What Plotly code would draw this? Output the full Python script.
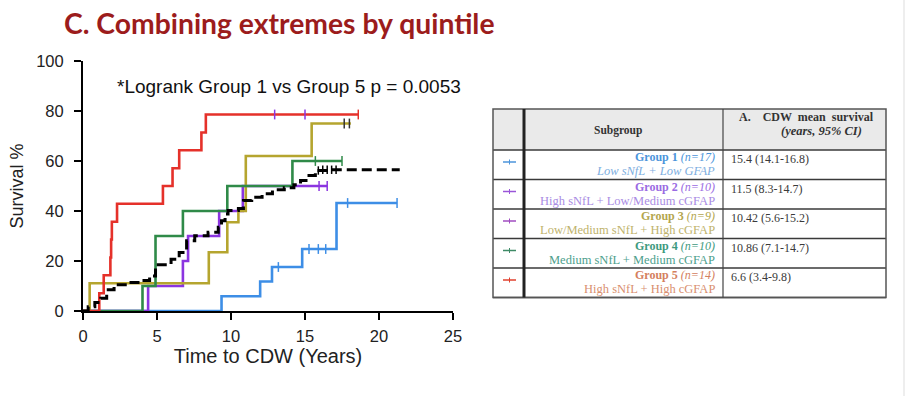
import plotly.graph_objects as go

# ---------------- data ----------------
title_text = "C. Combining extremes by quintile"
logrank_text = "*Logrank Group 1 vs Group 5 p = 0.0053"

x_ticks = [0, 5, 10, 15, 20, 25]
y_ticks = [0, 20, 40, 60, 80, 100]

# Group 1 (blue)
g1_time = [0, 9.36, 11.97, 12.77, 14.81, 17.13, 21.22]
g1_surv = [0, 5.9, 11.8, 17.6, 24.8, 43.2, 43.2]
g1_cens_t = [13.2, 15.27, 15.9, 16.4, 17.88, 21.22]
g1_cens_s = [17.6, 24.8, 24.8, 24.8, 43.2, 43.2]

# Group 2 (purple)
g2_time = [0, 4.4, 6.75, 7.1, 9.2, 10.8, 16.5]
g2_surv = [0, 10, 20, 30, 40, 50, 50]
g2_cens_t = [15.95, 16.5]
g2_cens_s = [50, 50]

# Group 3 (olive)
g3_time = [0, 0.45, 8.5, 9.75, 10.5, 11.0, 15.45, 18.1]
g3_surv = [0, 11.1, 23.5, 35.5, 40, 62, 75, 75]
g3_cens_t = [17.65, 18.0]
g3_cens_s = [75, 75]

# Group 4 (green)
g4_time = [0, 4.02, 4.9, 6.75, 9.75, 14.15, 17.5]
g4_surv = [0, 10, 30, 40, 50, 60, 60]
g4_cens_t = [15.7, 17.5]
g4_cens_s = [60, 60]

# Group 5 (red)
g5_time = [0, 1.1, 1.4, 1.85, 1.9, 1.95, 2.3, 5.4, 6.05, 6.5, 8.0, 8.3, 18.6]
g5_surv = [0, 7.1, 14.3, 21.4, 28.6, 35.7, 42.9, 50, 57.1, 64.3, 71.4, 78.6, 78.6]
g5_cens_t = [12.95, 15.0, 18.6]
g5_cens_s = [78.6, 78.6, 78.6]

# All patients (black dashed)
all_time = [0, 0.35, 0.8, 1.2, 1.6, 2.1, 3.0, 3.9, 4.5, 4.9, 5.95, 6.5, 7.0, 7.55,
            8.45, 9.14, 9.36, 9.6, 9.8, 10.5, 10.84, 11.4, 12.1, 12.8, 13.6, 14.25,
            14.7, 15.27, 15.7, 16.6, 21.4]
all_surv = [0, 1.7, 3.4, 5.1, 8.5, 10.5, 11.4, 12.2, 14.0, 18.5, 20.7, 23.4, 28.1, 30.1,
            31.5, 33.5, 36.1, 38.8, 40.2, 41.0, 44.2, 45.5, 46.9, 48.5, 49.3, 50.5,
            52.2, 54.2, 56.2, 56.5, 56.5]
all_cens_t = [15.9, 16.2, 16.5, 16.8, 17.1]
all_cens_s = [56.2, 56.5, 56.5, 56.5, 56.5]

# Table
groups = ["Group 1", "Group 2", "Group 3", "Group 4", "Group 5"]
group_n = ["n=17", "n=10", "n=9", "n=10", "n=14"]
group_desc = ["Low sNfL + Low GFAP", "High sNfL + Low/Medium cGFAP",
              "Low/Medium sNfL + High cGFAP", "Medium sNfL + Medium cGFAP",
              "High sNfL + High cGFAP"]
mean_survival = ["15.4 (14.1-16.8)", "11.5 (8.3-14.7)", "10.42 (5.6-15.2)",
                 "10.86 (7.1-14.7)", "6.6 (3.4-9.8)"]

# ---------------- styles ----------------
W, H = 906, 396
L, R, T, B = 83, 453, 61, 311

def px(x):
    return (x - L) / (R - L)

def py(y):
    return (B - y) / (B - T)

line_colors = ["#3D8EE6", "#8B35E0", "#B5A52F", "#2F8A48", "#E5312A"]
text_colors = ["#4C95DB", "#9A6BE3", "#B3A64E", "#3E9A7E", "#D4805E"]
desc_colors = ["#7DAEE0", "#A98CE3", "#C0B36C", "#4DA08C", "#D98F70"]
sym_colors = ["#4C95DB", "#9A55D8", "#A04CC0", "#3E8A66", "#E0402E"]

fig = go.Figure()

series = [
    (g1_time, g1_surv, g1_cens_t, g1_cens_s),
    (g2_time, g2_surv, g2_cens_t, g2_cens_s),
    (g3_time, g3_surv, g3_cens_t, g3_cens_s),
    (g4_time, g4_surv, g4_cens_t, g4_cens_s),
    (g5_time, g5_surv, g5_cens_t, g5_cens_s),
]
cens_colors = [line_colors[0], line_colors[1], "#333333", line_colors[3],
               [line_colors[1], line_colors[1], line_colors[4]]]

for i, (t, s, ct, cs) in enumerate(series):
    fig.add_trace(go.Scatter(x=t, y=s, mode="lines", line=dict(color=line_colors[i], width=2.6, shape="hv"),
                             showlegend=False, hoverinfo="skip"))
    fig.add_trace(go.Scatter(x=ct, y=cs, mode="markers",
                             marker=dict(symbol="line-ns", size=7,
                                         line=dict(color=cens_colors[i], width=1.5)),
                             showlegend=False, hoverinfo="skip", cliponaxis=False))

fig.add_trace(go.Scatter(x=all_time, y=all_surv, mode="lines",
                         line=dict(color="black", width=3, shape="hv", dash="10px,5px"),
                         showlegend=False, hoverinfo="skip"))
fig.add_trace(go.Scatter(x=all_cens_t, y=all_cens_s, mode="markers",
                         marker=dict(symbol="line-ns", size=6, line=dict(color="black", width=1.5)),
                         showlegend=False, hoverinfo="skip", cliponaxis=False))

axis_font = dict(family="Liberation Sans, Arial", size=16.5, color="#222222")
fig.update_xaxes(range=[0, 25], tickvals=x_ticks, ticktext=[str(v) for v in x_ticks],
                 showgrid=False, zeroline=False, showline=True, linecolor="black", linewidth=2,
                 ticks="outside", ticklen=7, tickwidth=2, tickcolor="black", tickfont=axis_font,
                 ticklabelstandoff=2,
                 title=dict(text="Time to CDW (Years)", font=dict(family="Liberation Sans, Arial", size=20, color="#222"),
                            standoff=0),
                 layer="below traces")
fig.update_yaxes(range=[0, 100], tickvals=y_ticks, ticktext=[str(v) for v in y_ticks],
                 showgrid=False, zeroline=False, showline=True, linecolor="black", linewidth=2,
                 ticks="outside", ticklen=7, tickwidth=2, tickcolor="black", tickfont=axis_font,
                 ticklabelstandoff=7,
                 title=dict(text="Survival %", font=dict(family="Liberation Sans, Arial", size=18, color="#222"),
                            standoff=8),
                 layer="below traces")

annotations = []
shapes = []

annotations.append(dict(text="<b>" + title_text + "</b>", x=px(62), y=py(23), xref="paper", yref="paper",
                        xanchor="left", yanchor="middle", showarrow=False,
                        font=dict(family="Lato", size=28.3, color="#9C1C1C")))
annotations.append(dict(text=logrank_text, x=px(115), y=py(86), xref="paper", yref="paper",
                        xanchor="left", yanchor="middle", showarrow=False,
                        font=dict(family="Liberation Sans, Arial", size=19, color="#111")))

# ---- table ----
x0, x1, x2, x3 = 493, 524, 723, 886
htop, hbot = 109, 150
row_h = 29.5
serif = "Liberation Serif, Times New Roman"

shapes.append(dict(type="rect", xref="paper", yref="paper", x0=px(x0), x1=px(x3), y0=py(hbot), y1=py(htop),
                   fillcolor="#EAEAEA", line=dict(width=0), layer="below"))
tbot = hbot + row_h * len(groups)
for k in range(len(groups) + 1):
    yy = hbot + row_h * k
    shapes.append(dict(type="line", xref="paper", yref="paper", x0=px(x0), x1=px(x3), y0=py(yy), y1=py(yy),
                       line=dict(color="#3A3A3A", width=1.5)))
shapes.append(dict(type="rect", xref="paper", yref="paper", x0=px(x0), x1=px(x3), y0=py(tbot), y1=py(htop),
                   line=dict(color="#555555", width=1.5)))
shapes.append(dict(type="line", xref="paper", yref="paper", x0=px(x1), x1=px(x1), y0=py(tbot), y1=py(htop),
                   line=dict(color="#222222", width=3)))
shapes.append(dict(type="line", xref="paper", yref="paper", x0=px(x2), x1=px(x2), y0=py(tbot), y1=py(htop),
                   line=dict(color="#444444", width=1.2)))

annotations.append(dict(text="<b>Subgroup</b>", x=px(618), y=py(130), xref="paper", yref="paper",
                        xanchor="center", yanchor="middle", showarrow=False,
                        font=dict(family=serif, size=11.5, color="#333")))
annotations.append(dict(text="<b>A.    CDW  mean  survival</b>", x=px(806), y=py(117), xref="paper", yref="paper",
                        xanchor="center", yanchor="middle", showarrow=False,
                        font=dict(family=serif, size=12, color="#333")))
annotations.append(dict(text="<b><i>(years, 95% CI)</i></b>", x=px(821), y=py(130.5), xref="paper", yref="paper",
                        xanchor="center", yanchor="middle", showarrow=False,
                        font=dict(family=serif, size=12.5, color="#333")))

for i, g in enumerate(groups):
    top = hbot + row_h * i
    ys = top + 12
    shapes.append(dict(type="line", xref="paper", yref="paper", x0=px(503), x1=px(516), y0=py(ys), y1=py(ys),
                       line=dict(color=sym_colors[i], width=1.5)))
    shapes.append(dict(type="line", xref="paper", yref="paper", x0=px(509.5), x1=px(509.5), y0=py(ys - 2.5), y1=py(ys + 2.5),
                       line=dict(color=sym_colors[i], width=1)))
    annotations.append(dict(text="<b>%s</b> <i>(%s)</i>" % (g, group_n[i]), x=px(717), y=py(top + 7.3),
                            xref="paper", yref="paper", xanchor="right", yanchor="middle", showarrow=False,
                            font=dict(family=serif, size=12, color=text_colors[i])))
    desc = ("<i>%s</i>" % group_desc[i]) if i == 0 else group_desc[i]
    annotations.append(dict(text=desc, x=px(717), y=py(top + 21),
                            xref="paper", yref="paper", xanchor="right", yanchor="middle", showarrow=False,
                            font=dict(family=serif, size=12.5, color=desc_colors[i])))
    annotations.append(dict(text=mean_survival[i], x=px(729), y=py(top + 9),
                            xref="paper", yref="paper", xanchor="left", yanchor="middle", showarrow=False,
                            font=dict(family=serif, size=12, color="#3A3A3A")))

shapes.append(dict(type="line", xref="paper", yref="paper", x0=px(904), x1=px(904), y0=py(0), y1=py(396),
                   line=dict(color="#DDDDDD", width=1)))

fig.update_layout(width=W, height=H, autosize=False,
                  margin=dict(l=L, r=W - R, t=T, b=H - B, pad=0),
                  plot_bgcolor="white", paper_bgcolor="white",
                  annotations=annotations, shapes=shapes, showlegend=False)

fig.write_html("out.html", config={"displayModeBar": False},
               post_script="document.body.style.margin='0px';")
